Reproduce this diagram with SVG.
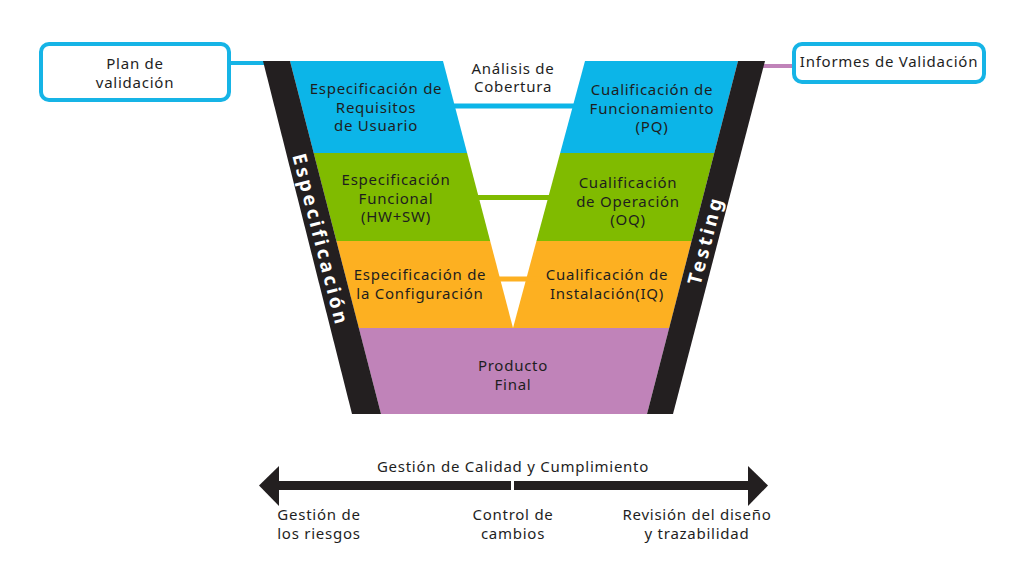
<svg xmlns="http://www.w3.org/2000/svg" width="1024" height="571" viewBox="0 0 1024 571">
<style>
text{font-family:"Noto Sans","Open Sans",sans-serif;font-size:15px;letter-spacing:0.75px;fill:#1e1e1e;text-anchor:middle}
.band{fill:#231f20}
.vt{font-weight:bold;font-size:19px;fill:#fff;letter-spacing:3.2px}
.box{fill:#fff;stroke:#16b4e6;stroke-width:4}
</style>
<rect width="1024" height="571" fill="#fff"/>
<g id="levels">
<polygon id="blue" points="290,61 738,61 714.3,153 313.7,153" fill="#0cb5e8"/>
<polygon id="green" points="313.7,153 714.3,153 691.6,241 336.4,241" fill="#80bb00"/>
<polygon id="orange" points="336.4,241 691.6,241 669.2,328 358.8,328" fill="#fdb021"/>
<polygon id="purple" points="358.8,328 669.2,328 647,414 381,414" fill="#c083b9"/>
<polygon id="v-gap" points="443,61 585,61 513,328" fill="#fff"/>
</g>
<g id="connectors">
<rect x="440" y="103.5" width="150" height="5" fill="#0cb5e8"/>
<rect x="460" y="195" width="110" height="5" fill="#80bb00"/>
<rect x="480" y="276.5" width="70" height="5" fill="#fdb021"/>
<rect x="227" y="61" width="40" height="4" fill="#16b4e6"/>
<rect x="760" y="64" width="36" height="4" fill="#c083b9"/>
</g>
<g id="spec-band">
<polygon class="band" points="263,61 290,61 381,414 352,414"/>
<text class="vt" transform="translate(321,240) rotate(75.7)" dy="7">Especificación</text>
</g>
<g id="test-band">
<polygon class="band" points="738,61 765,61 673,414 647,414"/>
<text class="vt" transform="translate(705,240) rotate(-75.4)" dy="7">Testing</text>
</g>
<g id="plan">
<rect class="box" x="41" y="44" width="188" height="56" rx="8"/>
<text x="135" y="69">Plan de</text>
<text x="135" y="88">validación</text>
</g>
<g id="informes">
<rect class="box" x="794" y="44" width="190" height="38" rx="8"/>
<text x="889" y="67">Informes de Validación</text>
</g>
<g id="analisis">
<text x="513" y="73.5">Análisis de</text>
<text x="513" y="92">Cobertura</text>
</g>
<g id="urs">
<text x="376" y="94">Especificación de</text>
<text x="376" y="112.5">Requisitos</text>
<text x="376" y="131">de Usuario</text>
</g>
<g id="pq">
<text x="652" y="95">Cualificación de</text>
<text x="652" y="113.5">Funcionamiento</text>
<text x="652" y="132">(PQ)</text>
</g>
<g id="fs">
<text x="396" y="185">Especificación</text>
<text x="396" y="203.5">Funcional</text>
<text x="396" y="222">(HW+SW)</text>
</g>
<g id="oq">
<text x="628" y="188">Cualificación</text>
<text x="628" y="206.5">de Operación</text>
<text x="628" y="225">(OQ)</text>
</g>
<g id="cs">
<text x="420" y="280">Especificación de</text>
<text x="420" y="298.5">la Configuración</text>
</g>
<g id="iq">
<text x="607" y="280">Cualificación de</text>
<text x="607" y="298.5">Instalación(IQ)</text>
</g>
<g id="final">
<text x="513" y="371">Producto</text>
<text x="513" y="389.5">Final</text>
</g>
<g id="arrow">
<text x="513" y="472">Gestión de Calidad y Cumplimiento</text>
<rect x="276" y="481" width="235" height="9" fill="#231f20"/>
<rect x="514" y="481" width="236" height="9" fill="#231f20"/>
<polygon points="259,485.5 279,466 279,506" fill="#231f20"/>
<polygon points="768,485.5 748,466 748,506" fill="#231f20"/>
</g>
<g id="bottom-labels">
<text x="319" y="520">Gestión de</text>
<text x="319" y="538.5">los riesgos</text>
<text x="513" y="520">Control de</text>
<text x="513" y="538.5">cambios</text>
<text x="697" y="520">Revisión del diseño</text>
<text x="697" y="538.5">y trazabilidad</text>
</g>
</svg>
